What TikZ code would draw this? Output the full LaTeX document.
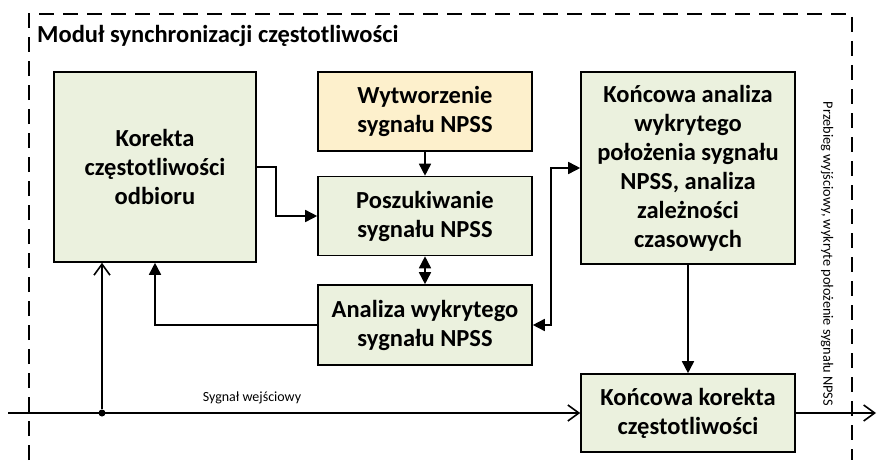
\documentclass[tikz,border=0pt]{standalone}
\usepackage{fontspec}
\setmainfont{Carlito}
\usepackage{xcolor}
\usepackage{tikz}
\usetikzlibrary{calc}
\usetikzlibrary{arrows.meta}
\usetikzlibrary{positioning}
\definecolor{zielony}{RGB}{235,241,222}
\definecolor{zolty}{RGB}{253,240,204}
\tikzset{
  blok/.style={rectangle, draw=black, line width=1.6pt, fill=zielony, align=center, inner sep=0pt, font=\fontsize{24.5}{29}\selectfont\bfseries},
  linia/.style={line width=1.6pt, draw=black},
  ramka/.style={line width=2pt, draw=black, dash pattern=on 15pt off 9pt},
  pelna/.tip={Triangle[length=12pt, width=12pt]},
  otwarta/.tip={Straight Barb[length=11pt, width=16pt, line width=1.6pt]}
}
\begin{document}
\begin{tikzpicture}[x=1pt, y=-1pt]
\useasboundingbox (0,0) rectangle (877,460);
\draw [ramka] (29,460) -- (29,14) -- (852,14) -- (852,460);
\node [anchor=base west, font=\fontsize{24.5}{28}\selectfont\bfseries, inner sep=0pt] (tytul) at (37,43) {Moduł synchronizacji częstotliwości};
\node [blok, minimum width=202pt, minimum height=190pt] (K) at (155,167) {Korekta\\częstotliwości\\odbioru};
\node [blok, fill=zolty, minimum width=214pt, minimum height=79pt] (W) at (425,111.5) {Wytworzenie\\sygnału NPSS};
\node [blok, minimum width=214pt, minimum height=79pt] (P) at (425,216) {Poszukiwanie\\sygnału NPSS};
\node [blok, minimum width=214pt, minimum height=80pt] (A) at (425,325) {Analiza wykrytego\\sygnału NPSS};
\node [blok, minimum width=214pt, minimum height=192pt] (KA) at (688,168) {Końcowa analiza\\wykrytego\\położenia sygnału\\NPSS, analiza\\zależności\\czasowych};
\node [blok, minimum width=214pt, minimum height=78pt] (KK) at (688,413) {Końcowa korekta\\częstotliwości};
\coordinate (wej) at (8,413);
\coordinate (wyj) at (876,413);
\node [circle, fill=black, inner sep=0pt, minimum size=7pt] (kropka) at (102,413) {};
\node [font=\fontsize{14}{16}\selectfont] (sw) at (252,398) {Sygnał wejściowy};
\node [rotate=-90, font=\fontsize{14.3}{16}\selectfont] (pw) at (827,254) {Przebieg wyjściowy, wykryte położenie sygnału NPSS};
\draw [linia, -pelna] (W) to (P);
\draw [linia, -pelna] (K.east) -- ++(19,0) |- (P.west);
\draw [linia, pelna-pelna] (P) to (A);
\draw [linia, -pelna] (A.west) -| (K.south);
\draw [linia, pelna-pelna] (A.east) -- ++(18,0) |- (KA.west);
\draw [linia, -pelna] (KA) to (KK);
\draw [linia, -otwarta] (wej) -- (KK.west);
\draw [linia, -otwarta] (kropka) -- (kropka |- K.south);
\draw [linia, -otwarta] (KK.east) -- (wyj);
\end{tikzpicture}
\end{document}
